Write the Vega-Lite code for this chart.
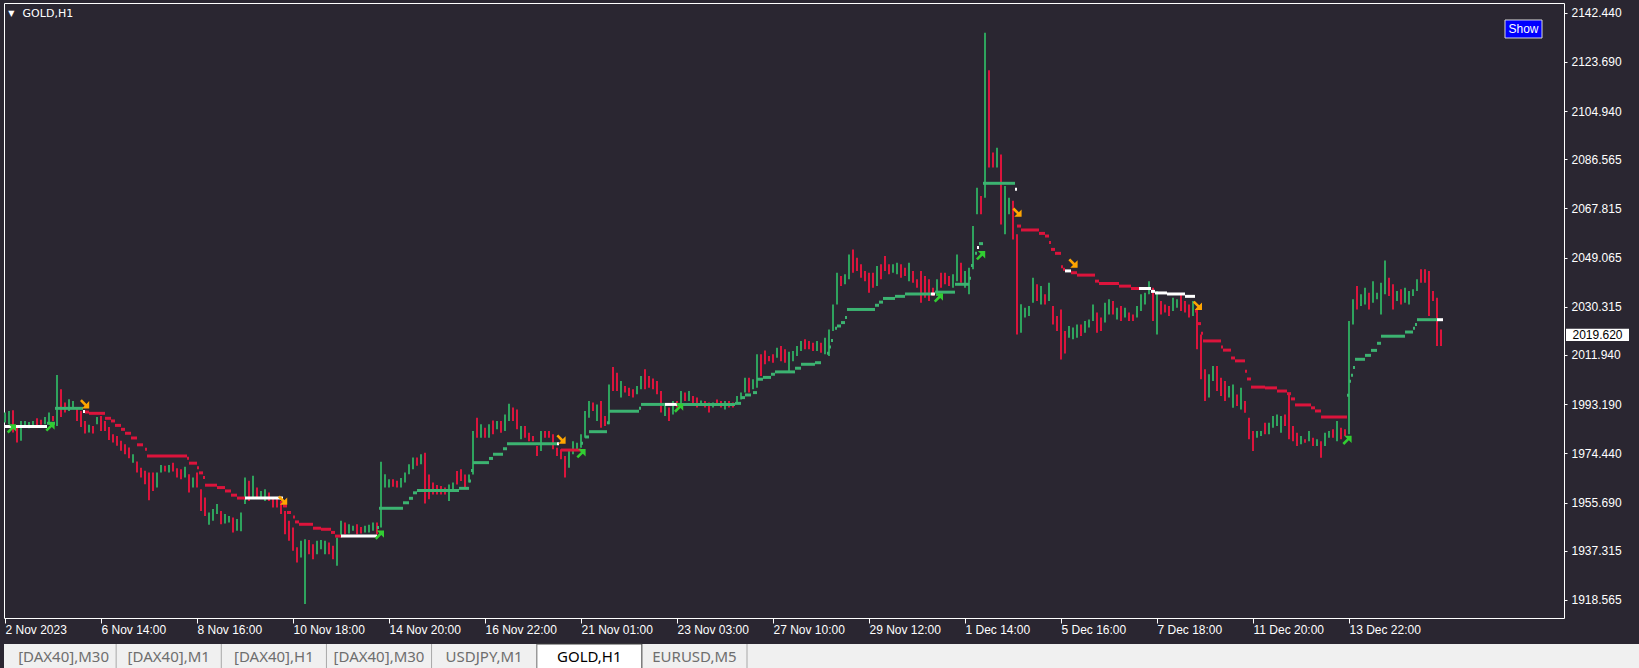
{
"$schema": "https://vega.github.io/schema/vega-lite/v6.json",
"background": "#2a2631",
"padding": {"left": 3, "top": 2, "right": 0, "bottom": 0},
"config": {
  "view": {"stroke": "#ffffff", "strokeWidth": 1},
  "axis": {"grid": false, "domain": false, "tickColor": "#ffffff", "labelColor": "#ffffff", "labelFont": "Liberation Sans", "labelFontSize": 12}
},
"datasets": {
"bars": [
{"i":0,"h":1990.0,"l":1986.2,"c":"u"},{"i":2,"h":1990.6,"l":1985.5,"c":"u"},{"i":4,"h":1990.9,"l":1982.4,"c":"d"},{"i":6,"h":1984.9,"l":1978.6,"c":"d"},{"i":8,"h":1986.8,"l":1979.2,"c":"u"},{"i":10,"h":1986.8,"l":1984.3,"c":"u"},{"i":12,"h":1986.4,"l":1984.0,"c":"u"},{"i":14,"h":1986.8,"l":1984.9,"c":"u"},{"i":16,"h":1987.8,"l":1984.5,"c":"d"},{"i":18,"h":1987.3,"l":1985.3,"c":"d"},
{"i":20,"h":1988.3,"l":1985.5,"c":"u"},{"i":22,"h":1990.0,"l":1986.2,"c":"u"},{"i":24,"h":1988.7,"l":1986.8,"c":"d"},{"i":26,"h":2004.3,"l":1984.9,"c":"u"},{"i":28,"h":1998.9,"l":1988.3,"c":"d"},{"i":30,"h":1993.8,"l":1990.0,"c":"d"},{"i":32,"h":1995.1,"l":1990.6,"c":"u"},{"i":34,"h":1994.4,"l":1991.9,"c":"u"},{"i":36,"h":1991.9,"l":1986.8,"c":"d"},{"i":38,"h":1990.6,"l":1984.5,"c":"d"},
{"i":40,"h":1986.8,"l":1982.0,"c":"d"},{"i":42,"h":1985.3,"l":1982.4,"c":"u"},{"i":44,"h":1984.9,"l":1982.0,"c":"d"},{"i":46,"h":1988.3,"l":1985.5,"c":"u"},{"i":48,"h":1988.7,"l":1983.0,"c":"d"},{"i":50,"h":1986.8,"l":1983.0,"c":"d"},{"i":52,"h":1984.5,"l":1979.5,"c":"d"},{"i":54,"h":1981.7,"l":1978.6,"c":"d"},{"i":56,"h":1981.1,"l":1977.3,"c":"d"},{"i":58,"h":1979.2,"l":1975.4,"c":"d"},
{"i":60,"h":1977.9,"l":1974.1,"c":"d"},{"i":62,"h":1976.7,"l":1972.6,"c":"d"},{"i":64,"h":1974.1,"l":1970.9,"c":"u"},{"i":66,"h":1971.3,"l":1967.1,"c":"d"},{"i":68,"h":1969.0,"l":1965.2,"c":"d"},{"i":70,"h":1967.8,"l":1962.7,"c":"d"},{"i":72,"h":1967.1,"l":1956.6,"c":"d"},{"i":74,"h":1967.1,"l":1960.1,"c":"d"},{"i":76,"h":1967.1,"l":1961.4,"c":"u"},{"i":78,"h":1970.0,"l":1967.1,"c":"u"},
{"i":80,"h":1969.7,"l":1967.5,"c":"d"},{"i":82,"h":1970.0,"l":1967.1,"c":"u"},{"i":84,"h":1970.9,"l":1967.5,"c":"d"},{"i":86,"h":1968.8,"l":1965.2,"c":"d"},{"i":88,"h":1968.4,"l":1964.6,"c":"d"},{"i":90,"h":1969.3,"l":1965.2,"c":"u"},{"i":92,"h":1966.5,"l":1959.5,"c":"d"},{"i":94,"h":1965.2,"l":1961.4,"c":"u"},{"i":96,"h":1967.1,"l":1961.4,"c":"d"},{"i":98,"h":1960.8,"l":1952.5,"c":"d"},
{"i":100,"h":1957.6,"l":1950.6,"c":"d"},{"i":102,"h":1951.9,"l":1947.2,"c":"u"},{"i":104,"h":1953.2,"l":1948.7,"c":"u"},{"i":106,"h":1955.1,"l":1951.3,"c":"u"},{"i":108,"h":1952.5,"l":1947.4,"c":"d"},{"i":110,"h":1951.3,"l":1947.7,"c":"u"},{"i":112,"h":1950.6,"l":1948.1,"c":"u"},{"i":114,"h":1950.0,"l":1944.3,"c":"d"},{"i":116,"h":1949.4,"l":1944.9,"c":"u"},{"i":118,"h":1951.9,"l":1944.7,"c":"u"},
{"i":120,"h":1965.2,"l":1955.1,"c":"u"},{"i":122,"h":1964.0,"l":1956.3,"c":"d"},{"i":124,"h":1965.9,"l":1957.6,"c":"u"},{"i":126,"h":1961.4,"l":1957.6,"c":"d"},{"i":128,"h":1960.1,"l":1957.0,"c":"u"},{"i":130,"h":1960.8,"l":1956.3,"c":"u"},{"i":132,"h":1959.5,"l":1956.3,"c":"d"},{"i":134,"h":1957.6,"l":1953.8,"c":"d"},{"i":136,"h":1957.0,"l":1953.8,"c":"d"},{"i":138,"h":1956.3,"l":1951.3,"c":"d"},
{"i":140,"h":1952.5,"l":1943.6,"c":"d"},{"i":142,"h":1948.7,"l":1941.1,"c":"d"},{"i":144,"h":1946.2,"l":1937.3,"c":"d"},{"i":146,"h":1938.6,"l":1932.8,"c":"d"},{"i":148,"h":1941.1,"l":1934.7,"c":"u"},{"i":150,"h":1941.7,"l":1917.0,"c":"u"},{"i":152,"h":1941.4,"l":1936.0,"c":"d"},{"i":154,"h":1939.8,"l":1934.1,"c":"d"},{"i":156,"h":1941.1,"l":1936.0,"c":"u"},{"i":158,"h":1941.4,"l":1937.9,"c":"u"},
{"i":160,"h":1941.1,"l":1936.0,"c":"u"},{"i":162,"h":1940.5,"l":1936.0,"c":"d"},{"i":164,"h":1939.2,"l":1934.1,"c":"d"},{"i":166,"h":1942.4,"l":1931.6,"c":"u"},{"i":168,"h":1948.7,"l":1942.4,"c":"u"},{"i":170,"h":1948.1,"l":1943.6,"c":"d"},{"i":172,"h":1947.4,"l":1943.9,"c":"u"},{"i":174,"h":1946.8,"l":1944.9,"c":"u"},{"i":176,"h":1947.4,"l":1943.6,"c":"d"},{"i":178,"h":1946.4,"l":1943.9,"c":"d"},
{"i":180,"h":1946.8,"l":1944.3,"c":"u"},{"i":182,"h":1947.2,"l":1944.3,"c":"u"},{"i":184,"h":1948.1,"l":1944.9,"c":"u"},{"i":186,"h":1948.1,"l":1943.6,"c":"d"},{"i":188,"h":1971.2,"l":1946.2,"c":"u"},{"i":190,"h":1966.5,"l":1961.4,"c":"u"},{"i":192,"h":1964.6,"l":1961.4,"c":"u"},{"i":194,"h":1964.6,"l":1961.7,"c":"d"},{"i":196,"h":1964.0,"l":1961.4,"c":"d"},{"i":198,"h":1965.0,"l":1961.4,"c":"u"},
{"i":200,"h":1967.1,"l":1963.3,"c":"u"},{"i":202,"h":1970.3,"l":1966.5,"c":"u"},{"i":204,"h":1972.9,"l":1968.4,"c":"u"},{"i":206,"h":1972.9,"l":1969.7,"c":"d"},{"i":208,"h":1974.1,"l":1970.3,"c":"u"},{"i":210,"h":1974.7,"l":1955.3,"c":"d"},{"i":212,"h":1966.4,"l":1956.9,"c":"d"},{"i":214,"h":1963.3,"l":1958.8,"c":"d"},{"i":216,"h":1962.4,"l":1958.8,"c":"d"},{"i":218,"h":1962.0,"l":1958.8,"c":"d"},
{"i":220,"h":1961.4,"l":1958.8,"c":"d"},{"i":222,"h":1962.6,"l":1956.3,"c":"u"},{"i":224,"h":1963.3,"l":1960.7,"c":"u"},{"i":226,"h":1967.7,"l":1962.6,"c":"d"},{"i":228,"h":1968.4,"l":1963.9,"c":"d"},{"i":230,"h":1966.4,"l":1961.4,"c":"d"},{"i":232,"h":1966.4,"l":1963.3,"c":"u"},{"i":234,"h":1983.0,"l":1966.4,"c":"u"},{"i":236,"h":1988.0,"l":1980.4,"c":"d"},{"i":238,"h":1985.5,"l":1980.4,"c":"u"},
{"i":240,"h":1984.2,"l":1980.4,"c":"d"},{"i":242,"h":1985.5,"l":1980.4,"c":"u"},{"i":244,"h":1987.0,"l":1981.7,"c":"d"},{"i":246,"h":1986.8,"l":1983.6,"c":"u"},{"i":248,"h":1986.8,"l":1982.3,"c":"d"},{"i":250,"h":1989.3,"l":1983.0,"c":"u"},{"i":252,"h":1993.4,"l":1986.8,"c":"u"},{"i":254,"h":1991.9,"l":1986.8,"c":"d"},{"i":256,"h":1991.2,"l":1983.6,"c":"d"},{"i":258,"h":1984.9,"l":1979.8,"c":"u"},
{"i":260,"h":1984.9,"l":1980.4,"c":"d"},{"i":262,"h":1982.3,"l":1979.1,"c":"d"},{"i":264,"h":1981.1,"l":1979.1,"c":"d"},{"i":266,"h":1977.2,"l":1973.4,"c":"d"},{"i":268,"h":1983.0,"l":1975.3,"c":"u"},{"i":270,"h":1983.0,"l":1980.4,"c":"d"},{"i":272,"h":1983.0,"l":1980.4,"c":"d"},{"i":274,"h":1981.7,"l":1976.0,"c":"d"},{"i":276,"h":1976.6,"l":1973.4,"c":"d"},{"i":278,"h":1976.0,"l":1972.2,"c":"d"},
{"i":280,"h":1973.4,"l":1965.2,"c":"d"},{"i":282,"h":1975.3,"l":1969.0,"c":"u"},{"i":284,"h":1979.1,"l":1974.1,"c":"u"},{"i":286,"h":1978.5,"l":1975.3,"c":"u"},{"i":288,"h":1981.7,"l":1976.6,"c":"u"},{"i":290,"h":1990.6,"l":1980.4,"c":"u"},{"i":292,"h":1994.4,"l":1988.0,"c":"u"},{"i":294,"h":1993.8,"l":1990.6,"c":"d"},{"i":296,"h":1993.1,"l":1986.8,"c":"u"},{"i":298,"h":1994.4,"l":1984.2,"c":"d"},
{"i":300,"h":1988.7,"l":1984.9,"c":"d"},{"i":302,"h":2000.7,"l":1985.5,"c":"u"},{"i":304,"h":2007.4,"l":1998.2,"c":"d"},{"i":306,"h":2005.2,"l":1998.2,"c":"d"},{"i":308,"h":2002.0,"l":1995.7,"c":"u"},{"i":310,"h":2000.1,"l":1997.6,"c":"d"},{"i":312,"h":1999.5,"l":1996.3,"c":"d"},{"i":314,"h":1998.9,"l":1995.7,"c":"d"},{"i":316,"h":2000.1,"l":1997.0,"c":"u"},{"i":318,"h":2003.9,"l":1998.9,"c":"u"},
{"i":320,"h":2006.5,"l":1998.9,"c":"d"},{"i":322,"h":2003.9,"l":1999.5,"c":"d"},{"i":324,"h":2003.0,"l":1998.9,"c":"d"},{"i":326,"h":2002.0,"l":1997.0,"c":"d"},{"i":328,"h":1998.2,"l":1990.0,"c":"d"},{"i":330,"h":1993.1,"l":1988.7,"c":"u"},{"i":332,"h":1991.9,"l":1986.8,"c":"d"},{"i":334,"h":1994.4,"l":1989.3,"c":"u"},{"i":336,"h":1994.4,"l":1991.9,"c":"d"},{"i":338,"h":1998.2,"l":1993.1,"c":"u"},
{"i":340,"h":1997.6,"l":1994.4,"c":"d"},{"i":342,"h":1998.2,"l":1994.4,"c":"u"},{"i":344,"h":1996.3,"l":1993.1,"c":"d"},{"i":346,"h":1995.7,"l":1991.9,"c":"d"},{"i":348,"h":1994.6,"l":1993.1,"c":"u"},{"i":350,"h":1994.4,"l":1991.9,"c":"d"},{"i":352,"h":1993.8,"l":1990.0,"c":"d"},{"i":354,"h":1993.8,"l":1991.9,"c":"u"},{"i":356,"h":1995.0,"l":1992.5,"c":"d"},{"i":358,"h":1994.4,"l":1991.9,"c":"d"},
{"i":360,"h":1994.4,"l":1991.2,"c":"u"},{"i":362,"h":1994.4,"l":1991.9,"c":"d"},{"i":364,"h":1993.8,"l":1991.9,"c":"d"},{"i":366,"h":1996.3,"l":1993.8,"c":"u"},{"i":368,"h":1997.6,"l":1995.0,"c":"u"},{"i":370,"h":2003.3,"l":1997.6,"c":"u"},{"i":372,"h":2003.3,"l":1997.6,"c":"d"},{"i":374,"h":2002.7,"l":1998.9,"c":"u"},{"i":376,"h":2012.2,"l":1999.5,"c":"u"},{"i":378,"h":2012.2,"l":2003.9,"c":"d"},
{"i":380,"h":2013.7,"l":2008.4,"c":"d"},{"i":382,"h":2011.6,"l":2009.6,"c":"d"},{"i":384,"h":2012.2,"l":2009.0,"c":"d"},{"i":386,"h":2014.7,"l":2010.9,"c":"u"},{"i":388,"h":2015.4,"l":2009.6,"c":"d"},{"i":390,"h":2014.1,"l":2009.0,"c":"d"},{"i":392,"h":2013.2,"l":2005.8,"c":"u"},{"i":394,"h":2013.5,"l":2009.6,"c":"u"},{"i":396,"h":2015.4,"l":2011.6,"c":"u"},{"i":398,"h":2017.3,"l":2013.5,"c":"u"},
{"i":400,"h":2017.9,"l":2014.1,"c":"d"},{"i":402,"h":2017.3,"l":2014.1,"c":"d"},{"i":404,"h":2016.6,"l":2013.5,"c":"d"},{"i":406,"h":2017.3,"l":2013.5,"c":"u"},{"i":408,"h":2016.6,"l":2012.8,"c":"d"},{"i":410,"h":2018.5,"l":2012.2,"c":"u"},{"i":412,"h":2021.7,"l":2011.6,"c":"u"},{"i":414,"h":2031.2,"l":2021.1,"c":"u"},{"i":416,"h":2043.3,"l":2031.2,"c":"u"},{"i":418,"h":2042.1,"l":2038.2,"c":"d"},
{"i":420,"h":2042.7,"l":2038.9,"c":"u"},{"i":422,"h":2050.3,"l":2040.8,"c":"u"},{"i":424,"h":2052.2,"l":2043.3,"c":"d"},{"i":426,"h":2049.0,"l":2044.0,"c":"d"},{"i":428,"h":2046.5,"l":2041.4,"c":"d"},{"i":430,"h":2044.0,"l":2040.1,"c":"d"},{"i":432,"h":2043.3,"l":2035.7,"c":"d"},{"i":434,"h":2043.3,"l":2037.6,"c":"d"},{"i":436,"h":2045.9,"l":2038.2,"c":"u"},{"i":438,"h":2046.5,"l":2040.8,"c":"d"},
{"i":440,"h":2049.7,"l":2044.0,"c":"d"},{"i":442,"h":2046.5,"l":2042.7,"c":"d"},{"i":444,"h":2046.5,"l":2043.3,"c":"u"},{"i":446,"h":2047.1,"l":2042.7,"c":"u"},{"i":448,"h":2046.5,"l":2041.4,"c":"d"},{"i":450,"h":2045.2,"l":2042.1,"c":"d"},{"i":452,"h":2047.1,"l":2040.1,"c":"u"},{"i":454,"h":2044.0,"l":2039.5,"c":"d"},{"i":456,"h":2040.8,"l":2037.6,"c":"d"},{"i":458,"h":2044.0,"l":2031.9,"c":"d"},
{"i":460,"h":2042.1,"l":2033.8,"c":"d"},{"i":462,"h":2040.8,"l":2032.5,"c":"d"},{"i":464,"h":2037.6,"l":2034.4,"c":"d"},{"i":466,"h":2040.8,"l":2034.4,"c":"u"},{"i":468,"h":2043.3,"l":2037.6,"c":"d"},{"i":470,"h":2043.3,"l":2038.9,"c":"d"},{"i":472,"h":2042.1,"l":2038.2,"c":"d"},{"i":474,"h":2042.7,"l":2037.6,"c":"u"},{"i":476,"h":2050.3,"l":2040.1,"c":"u"},{"i":478,"h":2047.1,"l":2039.5,"c":"d"},
{"i":480,"h":2044.0,"l":2037.6,"c":"u"},{"i":482,"h":2045.2,"l":2035.1,"c":"u"},{"i":484,"h":2061.1,"l":2044.6,"c":"u"},{"i":486,"h":2075.7,"l":2065.6,"c":"u"},{"i":488,"h":2072.6,"l":2065.6,"c":"d"},{"i":490,"h":2134.8,"l":2071.9,"c":"u"},{"i":492,"h":2120.5,"l":2083.4,"c":"d"},{"i":494,"h":2089.1,"l":2083.4,"c":"d"},{"i":496,"h":2091.0,"l":2083.4,"c":"u"},{"i":498,"h":2088.4,"l":2061.7,"c":"d"},
{"i":500,"h":2076.4,"l":2058.0,"c":"u"},{"i":502,"h":2071.9,"l":2065.6,"c":"u"},{"i":504,"h":2070.7,"l":2056.0,"c":"d"},{"i":506,"h":2058.0,"l":2019.8,"c":"d"},{"i":508,"h":2031.3,"l":2020.4,"c":"u"},{"i":510,"h":2030.0,"l":2026.2,"c":"u"},{"i":512,"h":2030.6,"l":2026.8,"c":"u"},{"i":514,"h":2041.4,"l":2031.9,"c":"u"},{"i":516,"h":2038.9,"l":2032.5,"c":"d"},{"i":518,"h":2038.2,"l":2031.2,"c":"u"},
{"i":520,"h":2035.1,"l":2031.2,"c":"d"},{"i":522,"h":2039.5,"l":2032.5,"c":"u"},{"i":524,"h":2030.6,"l":2023.6,"c":"d"},{"i":526,"h":2026.8,"l":2021.1,"c":"d"},{"i":528,"h":2029.3,"l":2010.2,"c":"d"},{"i":530,"h":2021.1,"l":2012.5,"c":"d"},{"i":532,"h":2023.0,"l":2018.5,"c":"u"},{"i":534,"h":2022.4,"l":2017.9,"c":"u"},{"i":536,"h":2023.6,"l":2018.5,"c":"u"},{"i":538,"h":2023.6,"l":2019.2,"c":"d"},
{"i":540,"h":2024.9,"l":2020.4,"c":"u"},{"i":542,"h":2025.5,"l":2022.4,"c":"u"},{"i":544,"h":2031.2,"l":2024.9,"c":"u"},{"i":546,"h":2028.1,"l":2020.4,"c":"d"},{"i":548,"h":2026.2,"l":2021.1,"c":"d"},{"i":550,"h":2031.9,"l":2024.3,"c":"u"},{"i":552,"h":2033.2,"l":2027.4,"c":"u"},{"i":554,"h":2032.5,"l":2027.4,"c":"d"},{"i":556,"h":2030.0,"l":2025.5,"c":"u"},{"i":558,"h":2030.6,"l":2024.9,"c":"d"},
{"i":560,"h":2030.0,"l":2026.2,"c":"u"},{"i":562,"h":2028.1,"l":2024.9,"c":"d"},{"i":564,"h":2027.4,"l":2024.9,"c":"d"},{"i":566,"h":2030.6,"l":2026.2,"c":"u"},{"i":568,"h":2035.1,"l":2028.7,"c":"u"},{"i":570,"h":2035.7,"l":2031.2,"c":"u"},{"i":572,"h":2040.1,"l":2035.1,"c":"u"},{"i":574,"h":2037.6,"l":2024.9,"c":"d"},{"i":576,"h":2036.3,"l":2019.8,"c":"u"},{"i":578,"h":2032.5,"l":2027.4,"c":"d"},
{"i":580,"h":2031.2,"l":2028.1,"c":"d"},{"i":582,"h":2030.6,"l":2026.8,"c":"d"},{"i":584,"h":2033.8,"l":2028.7,"c":"u"},{"i":586,"h":2033.2,"l":2030.0,"c":"u"},{"i":588,"h":2035.1,"l":2028.7,"c":"d"},{"i":590,"h":2032.5,"l":2028.1,"c":"d"},{"i":592,"h":2031.2,"l":2026.2,"c":"d"},{"i":594,"h":2032.5,"l":2026.8,"c":"u"},{"i":596,"h":2030.0,"l":2014.1,"c":"d"},{"i":598,"h":2019.8,"l":2002.7,"c":"d"},
{"i":600,"h":2006.5,"l":1994.4,"c":"d"},{"i":602,"h":2004.6,"l":1995.7,"c":"u"},{"i":604,"h":2007.7,"l":2002.0,"c":"u"},{"i":606,"h":2007.7,"l":1998.2,"c":"d"},{"i":608,"h":2003.3,"l":1996.3,"c":"d"},{"i":610,"h":2002.0,"l":1994.4,"c":"d"},{"i":612,"h":2000.1,"l":1995.7,"c":"u"},{"i":614,"h":2000.7,"l":1991.8,"c":"u"},{"i":616,"h":1996.9,"l":1992.5,"c":"d"},{"i":618,"h":1999.5,"l":1991.2,"c":"u"},
{"i":620,"h":1994.4,"l":1989.9,"c":"d"},{"i":622,"h":1988.0,"l":1979.8,"c":"d"},{"i":624,"h":1983.0,"l":1975.3,"c":"d"},{"i":626,"h":1983.0,"l":1980.4,"c":"u"},{"i":628,"h":1983.0,"l":1981.1,"c":"u"},{"i":630,"h":1986.1,"l":1981.7,"c":"d"},{"i":632,"h":1986.1,"l":1981.7,"c":"u"},{"i":634,"h":1988.7,"l":1984.2,"c":"u"},{"i":636,"h":1989.3,"l":1984.9,"c":"u"},{"i":638,"h":1988.7,"l":1982.3,"c":"u"},
{"i":640,"h":1989.3,"l":1984.9,"c":"d"},{"i":642,"h":1996.9,"l":1979.8,"c":"d"},{"i":644,"h":1984.9,"l":1979.1,"c":"d"},{"i":646,"h":1982.3,"l":1977.2,"c":"d"},{"i":648,"h":1981.1,"l":1977.9,"c":"u"},{"i":650,"h":1979.8,"l":1978.5,"c":"d"},{"i":652,"h":1983.0,"l":1979.1,"c":"u"},{"i":654,"h":1980.4,"l":1977.2,"c":"d"},{"i":656,"h":1979.8,"l":1977.2,"c":"u"},{"i":658,"h":1979.1,"l":1972.8,"c":"d"},
{"i":660,"h":1982.3,"l":1977.2,"c":"u"},{"i":662,"h":1983.0,"l":1980.4,"c":"u"},{"i":664,"h":1983.6,"l":1980.4,"c":"d"},{"i":666,"h":1986.8,"l":1979.1,"c":"u"},{"i":668,"h":1984.2,"l":1979.8,"c":"d"},{"i":670,"h":1983.6,"l":1981.1,"c":"d"},{"i":672,"h":2024.9,"l":1981.7,"c":"u"},{"i":674,"h":2033.2,"l":2023.6,"c":"u"},{"i":676,"h":2038.2,"l":2029.3,"c":"d"},{"i":678,"h":2035.1,"l":2030.6,"c":"u"},
{"i":680,"h":2037.6,"l":2031.2,"c":"u"},{"i":682,"h":2035.7,"l":2029.3,"c":"d"},{"i":684,"h":2040.1,"l":2031.9,"c":"u"},{"i":686,"h":2035.7,"l":2033.2,"c":"u"},{"i":688,"h":2039.5,"l":2027.4,"c":"u"},{"i":690,"h":2048.0,"l":2035.1,"c":"u"},{"i":692,"h":2041.4,"l":2034.4,"c":"d"},{"i":694,"h":2038.9,"l":2029.3,"c":"d"},{"i":696,"h":2036.3,"l":2032.5,"c":"u"},{"i":698,"h":2037.0,"l":2031.2,"c":"d"},
{"i":700,"h":2037.6,"l":2031.9,"c":"u"},{"i":702,"h":2036.3,"l":2031.2,"c":"u"},{"i":704,"h":2037.0,"l":2034.4,"c":"u"},{"i":706,"h":2040.8,"l":2036.3,"c":"u"},{"i":708,"h":2044.6,"l":2039.5,"c":"d"},{"i":710,"h":2044.6,"l":2039.5,"c":"d"},{"i":712,"h":2044.0,"l":2026.8,"c":"d"},{"i":714,"h":2036.3,"l":2032.5,"c":"d"},{"i":716,"h":2033.8,"l":2015.4,"c":"d"},{"i":718,"h":2021.7,"l":2015.4,"c":"d"}
],
"ind": [
{"a":0,"b":21,"v":1984.7,"c":"w"},{"a":21,"b":25,"v":1985.9,"c":"g"},{"a":25,"b":39,"v":1991.6,"c":"g"},{"a":39,"b":40,"v":1990.4,"c":"w"},{"a":40,"b":42,"v":1990.2,"c":"r"},{"a":42,"b":50,"v":1989.7,"c":"r"},{"a":50,"b":53,"v":1987.8,"c":"r"},{"a":53,"b":55,"v":1986.8,"c":"r"},{"a":55,"b":58,"v":1985.1,"c":"r"},{"a":58,"b":60,"v":1983.6,"c":"r"},
{"a":60,"b":63,"v":1982.1,"c":"r"},{"a":63,"b":66,"v":1980.3,"c":"r"},{"a":66,"b":69,"v":1977.7,"c":"r"},{"a":70,"b":71,"v":1976.0,"c":"r"},{"a":71,"b":91,"v":1973.4,"c":"r"},{"a":91,"b":92,"v":1972.6,"c":"r"},{"a":92,"b":96,"v":1970.7,"c":"r"},{"a":96,"b":97,"v":1969.0,"c":"r"},{"a":97,"b":99,"v":1967.0,"c":"r"},{"a":99,"b":100,"v":1965.2,"c":"r"},
{"a":100,"b":106,"v":1962.3,"c":"r"},{"a":106,"b":110,"v":1961.4,"c":"r"},{"a":110,"b":113,"v":1960.1,"c":"r"},{"a":113,"b":116,"v":1958.5,"c":"r"},{"a":116,"b":120,"v":1957.4,"c":"r"},{"a":120,"b":139,"v":1957.4,"c":"w"},{"a":139,"b":141,"v":1954.4,"c":"r"},{"a":141,"b":143,"v":1951.9,"c":"r"},{"a":144,"b":145,"v":1950.2,"c":"r"},{"a":145,"b":147,"v":1948.3,"c":"r"},
{"a":147,"b":154,"v":1947.4,"c":"r"},{"a":154,"b":158,"v":1945.9,"c":"r"},{"a":158,"b":163,"v":1945.5,"c":"r"},{"a":163,"b":165,"v":1944.3,"c":"r"},{"a":165,"b":168,"v":1942.9,"c":"r"},{"a":168,"b":186,"v":1942.9,"c":"w"},{"a":186,"b":187,"v":1946.2,"c":"g"},{"a":187,"b":199,"v":1953.5,"c":"g"},{"a":199,"b":202,"v":1955.6,"c":"g"},{"a":202,"b":204,"v":1957.3,"c":"g"},
{"a":204,"b":206,"v":1959.4,"c":"g"},{"a":206,"b":227,"v":1960.3,"c":"g"},{"a":227,"b":232,"v":1961.1,"c":"g"},{"a":232,"b":233,"v":1963.9,"c":"g"},{"a":233,"b":234,"v":1967.9,"c":"g"},{"a":234,"b":242,"v":1970.9,"c":"g"},{"a":242,"b":244,"v":1972.5,"c":"g"},{"a":244,"b":249,"v":1974.1,"c":"g"},{"a":249,"b":251,"v":1976.2,"c":"g"},{"a":251,"b":276,"v":1978.1,"c":"g"},
{"a":276,"b":277,"v":1978.1,"c":"w"},{"a":278,"b":288,"v":1975.7,"c":"r"},{"a":288,"b":289,"v":1978.3,"c":"g"},{"a":290,"b":292,"v":1980.7,"c":"g"},{"a":292,"b":301,"v":1982.7,"c":"g"},{"a":301,"b":302,"v":1986.1,"c":"g"},{"a":302,"b":317,"v":1990.5,"c":"g"},{"a":317,"b":318,"v":1991.6,"c":"g"},{"a":318,"b":330,"v":1993.1,"c":"g"},{"a":330,"b":336,"v":1993.1,"c":"w"},
{"a":336,"b":365,"v":1993.1,"c":"g"},{"a":365,"b":368,"v":1993.5,"c":"g"},{"a":368,"b":370,"v":1995.7,"c":"g"},{"a":370,"b":373,"v":1996.7,"c":"g"},{"a":374,"b":376,"v":1997.6,"c":"g"},{"a":376,"b":379,"v":2002.7,"c":"g"},{"a":379,"b":383,"v":2003.4,"c":"g"},{"a":383,"b":385,"v":2004.6,"c":"g"},{"a":385,"b":395,"v":2005.5,"c":"g"},{"a":395,"b":398,"v":2006.9,"c":"g"},
{"a":398,"b":405,"v":2008.4,"c":"g"},{"a":405,"b":408,"v":2009.0,"c":"g"},{"a":411,"b":412,"v":2012.6,"c":"g"},{"a":412,"b":413,"v":2015.0,"c":"g"},{"a":413,"b":414,"v":2017.5,"c":"g"},{"a":415,"b":416,"v":2022.1,"c":"g"},{"a":416,"b":418,"v":2023.0,"c":"g"},{"a":418,"b":420,"v":2024.3,"c":"g"},{"a":420,"b":421,"v":2026.2,"c":"g"},{"a":421,"b":435,"v":2029.3,"c":"g"},
{"a":435,"b":437,"v":2030.9,"c":"g"},{"a":437,"b":439,"v":2032.1,"c":"g"},{"a":439,"b":445,"v":2033.5,"c":"g"},{"a":445,"b":450,"v":2034.3,"c":"g"},{"a":450,"b":463,"v":2035.2,"c":"g"},{"a":463,"b":465,"v":2035.2,"c":"w"},{"a":465,"b":475,"v":2035.9,"c":"g"},{"a":475,"b":482,"v":2038.9,"c":"g"},{"a":482,"b":483,"v":2041.2,"c":"g"},{"a":483,"b":484,"v":2046.1,"c":"g"},
{"a":485,"b":486,"v":2050.7,"c":"g"},{"a":486,"b":487,"v":2052.9,"c":"w"},{"a":487,"b":489,"v":2054.4,"c":"g"},{"a":489,"b":505,"v":2077.4,"c":"g"},{"a":505,"b":506,"v":2075.1,"c":"w"},{"a":506,"b":508,"v":2061.1,"c":"r"},{"a":508,"b":517,"v":2059.6,"c":"r"},{"a":517,"b":520,"v":2058.3,"c":"r"},{"a":520,"b":522,"v":2057.3,"c":"r"},{"a":522,"b":523,"v":2054.8,"c":"r"},
{"a":523,"b":525,"v":2052.2,"c":"r"},{"a":525,"b":528,"v":2050.7,"c":"r"},{"a":528,"b":529,"v":2045.6,"c":"r"},{"a":529,"b":530,"v":2044.6,"c":"r"},{"a":530,"b":533,"v":2044.0,"c":"w"},{"a":533,"b":536,"v":2043.3,"c":"r"},{"a":536,"b":545,"v":2042.4,"c":"r"},{"a":545,"b":547,"v":2040.1,"c":"r"},{"a":547,"b":557,"v":2039.2,"c":"r"},{"a":557,"b":563,"v":2038.2,"c":"r"},
{"a":563,"b":567,"v":2037.3,"c":"r"},{"a":567,"b":573,"v":2037.3,"c":"w"},{"a":573,"b":575,"v":2036.2,"c":"w"},{"a":575,"b":581,"v":2035.6,"c":"w"},{"a":581,"b":590,"v":2035.2,"c":"w"},{"a":590,"b":595,"v":2034.3,"c":"w"},{"a":595,"b":596,"v":2028.7,"c":"r"},{"a":596,"b":598,"v":2023.9,"c":"r"},{"a":598,"b":599,"v":2020.2,"c":"r"},{"a":599,"b":608,"v":2017.3,"c":"r"},
{"a":608,"b":609,"v":2015.0,"c":"r"},{"a":609,"b":613,"v":2013.8,"c":"r"},{"a":613,"b":615,"v":2010.8,"c":"r"},{"a":615,"b":620,"v":2009.7,"c":"r"},{"a":620,"b":621,"v":2005.7,"c":"r"},{"a":621,"b":623,"v":2002.8,"c":"r"},{"a":623,"b":630,"v":1999.7,"c":"r"},{"a":630,"b":636,"v":1999.4,"c":"r"},{"a":636,"b":641,"v":1998.2,"c":"r"},{"a":641,"b":643,"v":1997.2,"c":"r"},
{"a":643,"b":645,"v":1995.2,"c":"r"},{"a":645,"b":653,"v":1992.9,"c":"r"},{"a":653,"b":655,"v":1991.8,"c":"r"},{"a":655,"b":658,"v":1990.6,"c":"r"},{"a":658,"b":671,"v":1988.3,"c":"r"},{"a":671,"b":672,"v":1996.6,"c":"g"},{"a":672,"b":673,"v":2001.9,"c":"g"},{"a":673,"b":674,"v":2004.2,"c":"g"},{"a":674,"b":675,"v":2007.2,"c":"g"},{"a":675,"b":680,"v":2010.3,"c":"g"},
{"a":680,"b":683,"v":2011.8,"c":"g"},{"a":683,"b":686,"v":2013.7,"c":"g"},{"a":686,"b":688,"v":2016.4,"c":"g"},{"a":688,"b":700,"v":2019.1,"c":"g"},{"a":700,"b":704,"v":2020.7,"c":"g"},{"a":704,"b":705,"v":2022.1,"c":"g"},{"a":705,"b":706,"v":2023.6,"c":"g"},{"a":706,"b":716,"v":2025.4,"c":"g"},{"a":716,"b":719,"v":2025.4,"c":"w"}
],
"arrows": [
{"i":3.2,"p":1983.8,"k":"up"},{"i":22.5,"p":1984.5,"k":"up"},{"i":187.2,"p":1943.3,"k":"up"},{"i":288,"p":1974.3,"k":"up"},{"i":336.8,"p":1991.7,"k":"up"},{"i":466.7,"p":2033.7,"k":"up"},{"i":487.8,"p":2049.8,"k":"up"},{"i":671,"p":1979.4,"k":"up"},
{"i":39.8,"p":1993.3,"k":"dn"},{"i":138.8,"p":1956.6,"k":"dn"},{"i":278,"p":1979.9,"k":"dn"},{"i":506,"p":2066.4,"k":"dn"},{"i":534,"p":2047.0,"k":"dn"},{"i":596.2,"p":2030.9,"k":"dn"}
],
"tabs": [
{"n":"[DAX40],M30 ","s":0},{"n":"[DAX40],M1","s":0},{"n":"[DAX40],H1","s":0},{"n":"[DAX40],M30","s":0},{"n":"USDJPY,M1","s":0},{"n":"GOLD,H1","s":1},{"n":"EURUSD,M5","s":0}
]
},
"vconcat": [
{
  "width": 1560,
  "height": 615,
  "resolve": {"scale": {"color": "independent"}},
  "layer": [
    {
      "data": {"name": "bars"},
      "mark": {"type": "rule", "strokeWidth": 2},
      "encoding": {
        "x": {"field": "i", "type": "quantitative", "scale": {"domain": [-0.5, 779.5], "nice": false, "zero": false},
              "axis": {"orient": "bottom", "title": null, "values": [0,48,96,144,192,240,288,336,384,432,480,528,576,624,672], "tickSize": 5, "tickWidth": 1, "labelPadding": 1, "labelAlign": "left", "labelDx": 1, "labelFlush": false, "labelOverlap": false, "labelBound": false,
                       "labelExpr": "['2 Nov 2023','6 Nov 14:00','8 Nov 16:00','10 Nov 18:00','14 Nov 20:00','16 Nov 22:00','21 Nov 01:00','23 Nov 03:00','27 Nov 10:00','29 Nov 12:00','1 Dec 14:00','5 Dec 16:00','7 Dec 18:00','11 Dec 20:00','13 Dec 22:00'][round(datum.value/48)]"}},
        "y": {"field": "l", "type": "quantitative", "scale": {"domain": [1911.67, 2146.14], "nice": false, "zero": false},
              "axis": {"orient": "right", "title": null, "values": [2142.44, 2123.69, 2104.94, 2086.565, 2067.815, 2049.065, 2030.315, 2011.94, 1993.19, 1974.44, 1955.69, 1937.315, 1918.565], "format": ".3f", "tickSize": 3, "labelPadding": 4, "labelOverlap": false, "labelBound": false, "labelFlush": false}},
        "y2": {"field": "h"},
        "color": {"field": "c", "type": "nominal", "scale": {"domain": ["u", "d"], "range": ["#2ea35d", "#dc143c"]}, "legend": null}
      }
    },
    {
      "data": {"name": "ind"},
      "mark": {"type": "rule", "strokeWidth": 3, "strokeCap": "butt"},
      "encoding": {
        "x": {"field": "a", "type": "quantitative"},
        "x2": {"field": "b"},
        "y": {"field": "v", "type": "quantitative"},
        "color": {"field": "c", "type": "nominal", "scale": {"domain": ["g", "r", "w"], "range": ["#3cb371", "#dc143c", "#ffffff"]}, "legend": null}
      }
    },
    {
      "data": {"name": "arrows"},
      "transform": [{"filter": "datum.k == 'up'"}],
      "mark": {"type": "point", "shape": "M-0.5,0.3L-0.3,0.5L0.2,0L0.5,0.3L0.5,-0.5L-0.3,-0.5L0,-0.2Z", "filled": true, "opacity": 1, "size": 340, "color": "#32cd32"},
      "encoding": {"x": {"field": "i", "type": "quantitative"}, "y": {"field": "p", "type": "quantitative"}}
    },
    {
      "data": {"name": "arrows"},
      "transform": [{"filter": "datum.k == 'dn'"}],
      "mark": {"type": "point", "shape": "M-0.5,-0.3L-0.3,-0.5L0.2,0L0.5,-0.3L0.5,0.5L-0.3,0.5L0,0.2Z", "filled": true, "opacity": 1, "size": 340, "color": "#ffa500"},
      "encoding": {"x": {"field": "i", "type": "quantitative"}, "y": {"field": "p", "type": "quantitative"}}
    },
    {
      "data": {"values": [{"t": "▼"}]},
      "mark": {"type": "text", "color": "#ffffff", "font": "DejaVu Sans", "fontSize": 8, "align": "center", "baseline": "middle"},
      "encoding": {"x": {"datum": 3.2}, "y": {"datum": 2141.8}, "text": {"field": "t"}}
    },
    {
      "data": {"values": [{"t": "GOLD,H1"}]},
      "mark": {"type": "text", "color": "#ffffff", "font": "DejaVu Sans", "fontSize": 11, "align": "left", "baseline": "middle"},
      "encoding": {"x": {"datum": 8.8}, "y": {"datum": 2141.9}, "text": {"field": "t"}}
    },
    {
      "data": {"values": [{"t": "Show"}]},
      "mark": {"type": "rect", "fill": "#0000ff", "stroke": "#d8d8d8", "strokeWidth": 1},
      "encoding": {"x": {"datum": 750}, "x2": {"datum": 768.5}, "y": {"datum": 2139.66}, "y2": {"datum": 2132.8}}
    },
    {
      "data": {"values": [{"t": "Show"}]},
      "mark": {"type": "text", "color": "#ffffff", "font": "Liberation Sans", "fontSize": 12, "align": "center", "baseline": "middle"},
      "encoding": {"x": {"datum": 759.25}, "y": {"datum": 2136.2}, "text": {"field": "t"}}
    },
    {
      "data": {"values": [{"p": 2019.62}]},
      "mark": {"type": "rect", "fill": "#ffffff"},
      "encoding": {"x": {"datum": 780.5}, "x2": {"datum": 812}, "y": {"datum": 2021.9}, "y2": {"datum": 2017.3}}
    },
    {
      "data": {"values": [{"p": 2019.62}]},
      "mark": {"type": "text", "color": "#000000", "font": "Liberation Sans", "fontSize": 12, "align": "center", "baseline": "middle"},
      "encoding": {"x": {"datum": 796.25}, "y": {"field": "p", "type": "quantitative"}, "text": {"field": "p", "type": "quantitative", "format": ".3f"}}
    }
  ]
},
{
  "width": 1636,
  "height": 25,
  "data": {"name": "tabs"},
  "view": {"fill": "#f0f0f0", "stroke": null},
  "layer": [
    {
      "transform": [{"filter": "datum.s == 1"}],
      "mark": {"type": "rect", "fill": "#ffffff", "stroke": "#3c3c3c", "strokeWidth": 1},
      "encoding": {"x": {"field": "n", "type": "nominal", "sort": null, "scale": {"domain": ["[DAX40],M30 ","[DAX40],M1","[DAX40],H1","[DAX40],M30","USDJPY,M1","GOLD,H1","EURUSD,M5"], "range": [7, 743], "paddingInner": 0, "paddingOuter": 0}, "axis": null}}
    },
    {
      "transform": [{"filter": "datum.s == 0"}],
      "mark": {"type": "rule", "color": "#a8a8a8", "strokeWidth": 1},
      "encoding": {"x": {"field": "n", "type": "nominal", "sort": null, "bandPosition": 1, "axis": null}}
    },
    {
      "mark": {"type": "text", "font": "Noto Sans", "fontSize": 15, "baseline": "middle"},
      "encoding": {
        "x": {"field": "n", "type": "nominal", "sort": null, "axis": null},
        "text": {"field": "n"},
        "color": {"field": "s", "type": "nominal", "scale": {"domain": [0, 1], "range": ["#6e6e6e", "#000000"]}, "legend": null}
      }
    }
  ]
}
],
"bounds": "flush",
"spacing": 26
}
